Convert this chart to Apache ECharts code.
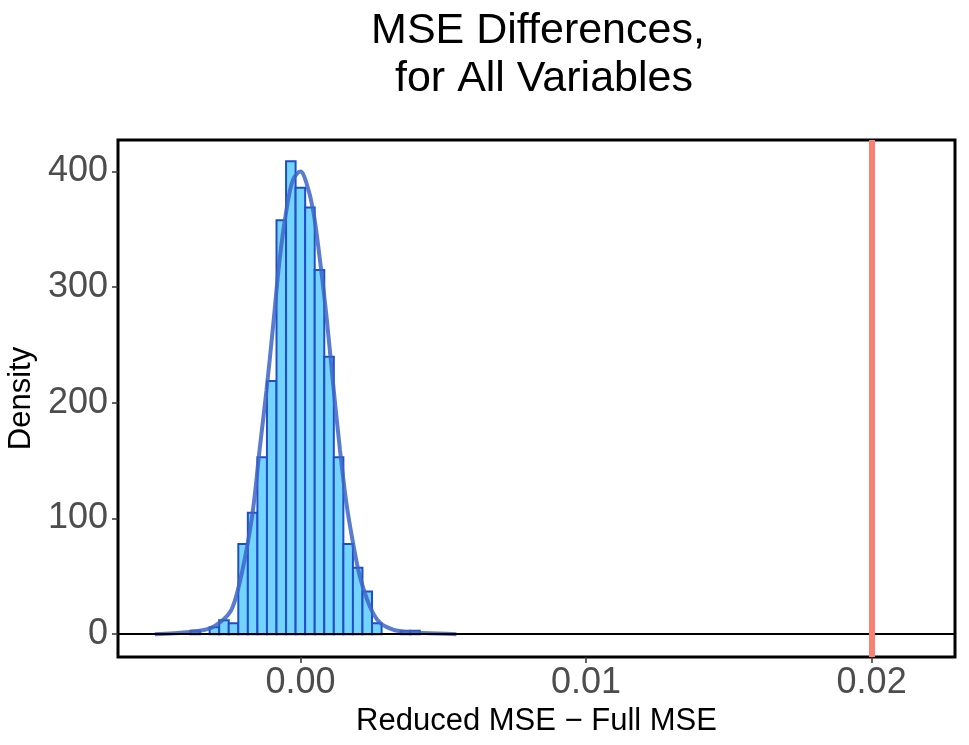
<!DOCTYPE html>
<html>
<head>
<meta charset="utf-8">
<title>MSE Differences</title>
<script src="https://cdn.jsdelivr.net/npm/echarts@6/dist/echarts.min.js"></script>
<style>
  html, body { margin: 0; padding: 0; background: #fff; }
  #chart { width: 969px; height: 745px; }
</style>
</head>
<body>
<div id="chart"></div>
<script>
// histogram bins (left edge of first bin + width)
var firstBinLeft = -0.003850;
var binWidth = 0.0003345;
var binDensity = [3.0, 0, 6.0, 12.0, 9.5, 78, 105, 153, 219, 358, 409, 386,
                  369, 315, 240, 153, 78, 57.5, 37, 9.4, 0, 0, 3.0, 3.0];

// density curve points
var curveX = [-0.00510, -0.00388, -0.00318, -0.00271, -0.00242, -0.00219, -0.00189,
              -0.00166, -0.00143, -0.00119, -0.00096, -0.00073, -0.00049, -0.00026,
              0.00000, 0.00021, 0.00044, 0.00068, 0.00091, 0.00114, 0.00138, 0.00161,
              0.00184, 0.00208, 0.00243, 0.00278, 0.00324, 0.00371, 0.00429, 0.00546];
var curveY = [0, 2, 5, 12.5, 21, 38.5, 73, 108, 160, 211, 266, 324, 367, 393,
              400, 390, 367, 324, 275, 217, 160, 113, 79, 50, 24, 10, 4, 2, 1, 0];

// observed difference (red line)
var observedDiff = 0.02018;

// axis ticks
var xTicks = [0, 0.01, 0.02];
var yTicks = [0, 100, 200, 300, 400];

var FONT = "'Liberation Sans', Helvetica, Arial, sans-serif";

var chart = echarts.init(document.getElementById('chart'));

var barData = [];
for (var i = 0; i < binDensity.length; i++) {
    if (binDensity[i] > 0) {
        var x0 = firstBinLeft + i * binWidth;
        barData.push([x0, x0 + binWidth, binDensity[i]]);
    }
}
var curveData = curveX.map(function (x, i) { return [x, curveY[i]]; });

var option = {
    animation: false,
    backgroundColor: '#fff',
    graphic: [{
        type: 'text',
        x: 538,
        y: 7,
        style: {
            text: 'MSE Differences,\n for All Variables',
            textAlign: 'center',
            font: '43px ' + FONT,
            lineHeight: 48,
            fill: '#000'
        }
    }],
    grid: {
        left: 118, right: 14, top: 140, bottom: 88,
        outerBoundsMode: 'none',
        containLabel: false,
        show: true,
        borderColor: '#000',
        borderWidth: 3,
        backgroundColor: '#fff'
    },
    xAxis: {
        type: 'value',
        min: -0.00639,
        max: 0.02292,
        name: 'Reduced MSE \u2212 Full MSE',
        nameLocation: 'middle',
        nameGap: 46,
        nameTextStyle: { fontFamily: FONT, fontSize: 31, color: '#000' },
        splitLine: { show: false },
        axisLine: { show: false, onZero: false },
        axisTick: { show: true, length: 6, customValues: xTicks, lineStyle: { color: '#333', width: 1.5 } },
        axisLabel: {
            customValues: xTicks,
            margin: 8,
            fontFamily: FONT, fontSize: 36, color: '#4D4D4D',
            formatter: function (v) { return v.toFixed(2); }
        }
    },
    yAxis: {
        type: 'value',
        min: -19.7,
        max: 427.3,
        name: 'Density',
        nameLocation: 'middle',
        nameGap: 78,
        nameRotate: 90,
        nameTextStyle: { fontFamily: FONT, fontSize: 31, color: '#000' },
        splitLine: { show: false },
        axisLine: { show: false, onZero: false },
        axisTick: { show: true, length: 6, customValues: yTicks, lineStyle: { color: '#333', width: 1.5 } },
        axisLabel: {
            customValues: yTicks,
            margin: 10,
            fontFamily: FONT, fontSize: 36, color: '#4D4D4D'
        }
    },
    series: [
        {
            type: 'line',
            data: [],
            silent: true,
            z: 1,
            markLine: {
                symbol: 'none',
                silent: true,
                animation: false,
                label: { show: false },
                data: [
                    { yAxis: 0, lineStyle: { color: '#000', width: 1.8, type: 'solid' } }
                ]
            }
        },
        {
            type: 'custom',
            z: 2,
            data: barData,
            encode: { x: [0, 1], y: 2 },
            renderItem: function (params, api) {
                var p0 = api.coord([api.value(0), api.value(2)]);
                var p1 = api.coord([api.value(1), 0]);
                return {
                    type: 'rect',
                    shape: { x: p0[0], y: p0[1], width: p1[0] - p0[0], height: p1[1] - p0[1] },
                    style: { fill: '#73D5FF', stroke: '#1F4FC6', lineWidth: 2 }
                };
            }
        },
        {
            type: 'line',
            z: 3,
            data: curveData,
            smooth: 0.35,
            showSymbol: false,
            lineStyle: { color: 'rgba(60,100,200,0.85)', width: 4 }
        },
        {
            type: 'line',
            data: [],
            z: 4,
            markLine: {
                symbol: 'none',
                silent: true,
                animation: false,
                label: { show: false },
                data: [
                    { xAxis: observedDiff, lineStyle: { color: '#FA8072', width: 6, type: 'solid' } }
                ]
            }
        }
    ]
};

chart.setOption(option);
</script>
</body>
</html>
